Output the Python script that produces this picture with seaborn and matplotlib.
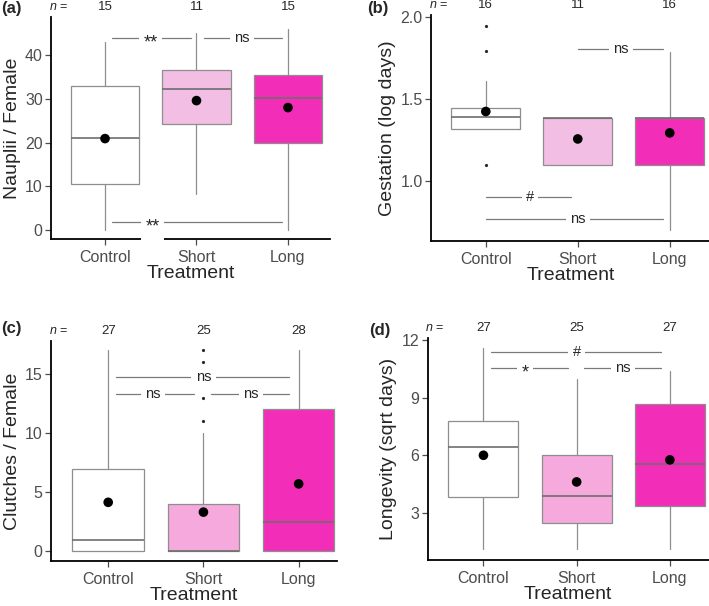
import matplotlib.pyplot as plt
import seaborn as sns

sns.set_style("ticks")
plt.rcParams['font.family'] = ['Liberation Sans', 'DejaVu Sans']
plt.rcParams['mathtext.fontset'] = 'custom'
plt.rcParams['mathtext.it'] = 'Liberation Sans:italic'

groups = ["Control", "Short", "Long"]

# (a) nauplii per female
naup_low = [0.0, 8.2, 0.0]
naup_q1 = [10.6, 24.2, 20.0]
naup_med = [21.1, 32.2, 30.2]
naup_q3 = [33.0, 36.6, 35.5]
naup_high = [43.1, 45.1, 46.1]
naup_mean = [20.9, 29.6, 28.0]
naup_out = [[], [], []]
naup_n = [15, 11, 15]
naup_sig = [(0, 1, 44.0, "**", 0.5), (1, 2, 44.0, "ns", 1.5), (0, 2, 1.75, "**", 0.52)]

# (b) gestation
gest_low = [1.317, 1.096, 0.698]
gest_q1 = [1.317, 1.096, 1.096]
gest_med = [1.388, 1.386, 1.386]
gest_q3 = [1.443, 1.386, 1.386]
gest_high = [1.61, 1.386, 1.79]
gest_mean = [1.423, 1.255, 1.292]
gest_out = [[1.096, 1.792, 1.949], [], []]
gest_n = [16, 11, 16]
gest_sig = [(1, 2, 1.805, "ns", 1.47), (0, 1, 0.898, "#", 0.48), (0, 2, 0.767, "ns", 1.0)]

# (c) clutches per female
clut_low = [0, 0, 0]
clut_q1 = [0, 0, 0]
clut_med = [1.0, 0.0, 2.5]
clut_q3 = [7.0, 4.0, 12.0]
clut_high = [17.0, 10.0, 17.0]
clut_mean = [4.15, 3.32, 5.71]
clut_out = [[], [11.0, 13.0, 16.0, 17.0], []]
clut_n = [27, 25, 28]
clut_sig = [(0, 2, 14.74, "ns", 1.0), (0, 1, 13.27, "ns", 0.47), (1, 2, 13.27, "ns", 1.5)]

# (d) longevity
long_low = [1.12, 1.12, 1.12]
long_q1 = [3.82, 2.50, 3.36]
long_med = [6.44, 3.91, 5.55]
long_q3 = [7.78, 6.01, 8.70]
long_high = [11.6, 9.99, 10.4]
long_mean = [6.01, 4.62, 5.77]
long_out = [[], [], []]
long_n = [27, 25, 27]
long_sig = [(0, 2, 11.40, "#", 1.0), (0, 1, 10.54, "*", 0.45), (1, 2, 10.54, "ns", 1.5)]

edge = '#8e8e8e'
medc = '#6e6e6e'
tickc = '#4d4d4d'

fig = plt.figure(figsize=(7.09, 6.06), dpi=100)


def draw_panel(rect, low, q1, med, q3, high, mean, out, n, sig, fills,
               ylabel, ylim, yticks, yticklabels, xlim, off, tag, tagpos):
    ax = fig.add_axes(rect)
    stats = []
    for k in range(3):
        stats.append(dict(whislo=low[k], q1=q1[k], med=med[k], q3=q3[k],
                          whishi=high[k], fliers=out[k], label=groups[k]))
    bp = ax.bxp(stats, positions=[0, 1, 2], widths=0.75, patch_artist=True,
                showcaps=False,
                boxprops=dict(edgecolor=edge, linewidth=0.9),
                whiskerprops=dict(color=edge, linewidth=0.9),
                medianprops=dict(color=medc, linewidth=1.2),
                flierprops=dict(marker='o', markersize=2.3,
                                markerfacecolor='#2a2a2a',
                                markeredgecolor='none', zorder=6))
    for patch, c in zip(bp['boxes'], fills):
        patch.set_facecolor(c)
    sns.scatterplot(x=[0, 1, 2], y=mean, color='black', s=48, ax=ax,
                    edgecolor='none', zorder=7, legend=False)

    for i, j, y, lab, xl in sig:
        ax.plot([i + off[0], j - off[1]], [y, y], color='#7a7a7a', lw=0.9, zorder=3)
        star = '*' in lab
        ax.annotate(lab, xy=(xl, y), xytext=(0, -3.5 if star else 0),
                    textcoords='offset points', ha='center', va='center',
                    fontsize=13 if star else 10.5, zorder=4,
                    bbox=dict(boxstyle='square,pad=0.3' if not star else 'square,pad=0.25',
                              facecolor='white', edgecolor='none'))

    for k in range(3):
        ax.annotate(str(n[k]), xy=(k, 1), xycoords=('data', 'axes fraction'),
                    xytext=(0, 7.3), textcoords='offset points', ha='center',
                    va='center', fontsize=9.5, annotation_clip=False)
    ax.annotate("$n$ =", xy=(xlim[0] + 0.08, 1), xycoords=('data', 'axes fraction'),
                xytext=(0, 7.3), textcoords='offset points', ha='center',
                va='center', fontsize=9, annotation_clip=False)

    ax.set_xlim(xlim)
    ax.set_ylim(ylim)
    ax.set_xticks([0, 1, 2])
    ax.set_xticklabels(groups)
    ax.set_yticks(yticks)
    ax.set_yticklabels(yticklabels)
    ax.tick_params(axis='both', colors=tickc, labelcolor=tickc, labelsize=11.5,
                   length=4, width=0.9)
    ax.tick_params(axis='x', pad=4)
    ax.tick_params(axis='y', pad=2)
    for s in ['left', 'bottom']:
        ax.spines[s].set_color('black')
        ax.spines[s].set_linewidth(1.3)
    sns.despine(ax=ax)
    ax.set_xlabel("Treatment", fontsize=14, labelpad=0)
    ax.set_ylabel(ylabel, fontsize=14, labelpad=3)
    fig.text(tagpos[0], tagpos[1], tag, fontsize=12, fontweight='bold',
             va='center', ha='left')
    return ax


white = '#ffffff'
long_fill = '#f22eb8'

draw_panel([0.072, 0.6056, 0.3935, 0.366], naup_low, naup_q1, naup_med, naup_q3,
           naup_high, naup_mean, naup_out, naup_n, naup_sig,
           [white, '#f3bee3', long_fill], "Nauplii / Female", (-2.1, 48.7),
           [0, 10, 20, 30, 40], ["0", "10", "20", "30", "40"],
           (-0.59, 2.46), (0.08, 0.06), "(a)", (0.001, 1 - 8 / 606))

draw_panel([0.608, 0.603, 0.395, 0.3724], gest_low, gest_q1, gest_med, gest_q3,
           gest_high, gest_mean, gest_out, gest_n, gest_sig,
           [white, '#f3bee3', long_fill], "Gestation (log days)", (0.633, 2.014),
           [1.0, 1.5, 2.0], ["1.0", "1.5", "2.0"],
           (-0.595, 2.45), (0.0, 0.07), "(b)", (0.518, 1 - 8 / 606))

draw_panel([0.072, 0.0745, 0.403, 0.363], clut_low, clut_q1, clut_med, clut_q3,
           clut_high, clut_mean, clut_out, clut_n, clut_sig,
           [white, '#f5a9dc', long_fill], "Clutches / Female", (-0.8, 17.8),
           [0, 5, 10, 15], ["0", "5", "10", "15"],
           (-0.6, 2.4), (0.08, 0.1), "(c)", (0.001, 1 - 329 / 606))

draw_panel([0.603, 0.0759, 0.397, 0.3656], long_low, long_q1, long_med, long_q3,
           long_high, long_mean, long_out, long_n, long_sig,
           [white, '#f5a9dc', long_fill], "Longevity (sqrt days)", (0.55, 12.1),
           [3, 6, 9, 12], ["3", "6", "9", "12"],
           (-0.6, 2.42), (0.08, 0.09), "(d)", (0.521, 1 - 331 / 606))

fig.savefig('out.png', dpi=100)
